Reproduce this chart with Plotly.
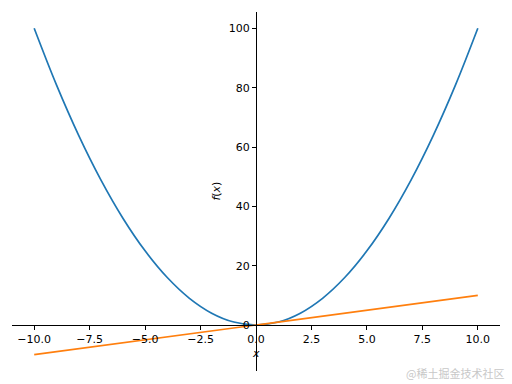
import plotly.graph_objects as go

x_vals = [-10, -9, -8, -7, -6, -5, -4, -3, -2, -1, 0, 1, 2, 3, 4, 5, 6, 7, 8, 9, 10]
square_vals = [100, 81, 64, 49, 36, 25, 16, 9, 4, 1, 0, 1, 4, 9, 16, 25, 36, 49, 64, 81, 100]
linear_vals = [-10, -9, -8, -7, -6, -5, -4, -3, -2, -1, 0, 1, 2, 3, 4, 5, 6, 7, 8, 9, 10]

x_ticks = [-10, -7.5, -5, -2.5, 0, 2.5, 5, 7.5, 10]
x_tick_text = ["\u221210.0", "\u22127.5", "\u22125.0", "\u22122.5", "0.0", "2.5", "5.0", "7.5", "10.0"]
y_ticks = [0, 20, 40, 60, 80, 100]
y_tick_text = ["0", "20", "40", "60", "80", "100"]

x_range = [-11, 11]
y_range = [-15.5, 105.5]

fig = go.Figure()
fig.add_trace(go.Scatter(x=x_vals, y=square_vals, mode="lines", line=dict(color="#1f77b4", width=1.7, shape="spline")))
fig.add_trace(go.Scatter(x=x_vals, y=linear_vals, mode="lines", line=dict(color="#ff7f0e", width=1.7)))

font = dict(family="DejaVu Sans", size=11, color="black")
x_pos = (0 - y_range[0]) / (y_range[1] - y_range[0])
y_pos = (0 - x_range[0]) / (x_range[1] - x_range[0])

fig.update_layout(
    width=512, height=384,
    margin=dict(l=12, r=12, t=12, b=13),
    paper_bgcolor="white", plot_bgcolor="white",
    showlegend=False,
    xaxis=dict(range=x_range, tickvals=x_ticks, ticktext=x_tick_text, showgrid=False, zeroline=False,
               showline=True, linecolor="black", linewidth=1, ticks="outside", ticklen=4, tickwidth=1,
               tickcolor="black", anchor="free", position=x_pos, tickfont=font),
    yaxis=dict(range=y_range, tickvals=y_ticks, ticktext=y_tick_text, showgrid=False, zeroline=False,
               showline=True, linecolor="black", linewidth=1, ticks="outside", ticklen=4, tickwidth=1,
               tickcolor="black", anchor="free", position=y_pos, tickfont=font),
    annotations=[
        dict(text="<i>x</i>", x=0, y=x_pos, xref="x", yref="paper", yanchor="middle", yshift=-28,
             showarrow=False, font=dict(family="DejaVu Sans", size=11, color="black")),
        dict(text="<i>f</i>(<i>x</i>)", x=-1.8, y=0.5, xref="x", yref="paper", textangle=-90, showarrow=False,
             font=dict(family="DejaVu Sans", size=11, color="black")),
        dict(text="@稀土掘金技术社区", x=1, y=0, xref="paper", yref="paper", xanchor="right", yanchor="middle",
             xshift=6, yshift=-2, showarrow=False,
             font=dict(family="Noto Sans CJK SC", size=11, color="#c8c8c8")),
    ],
)

fig.write_html("out.html")
